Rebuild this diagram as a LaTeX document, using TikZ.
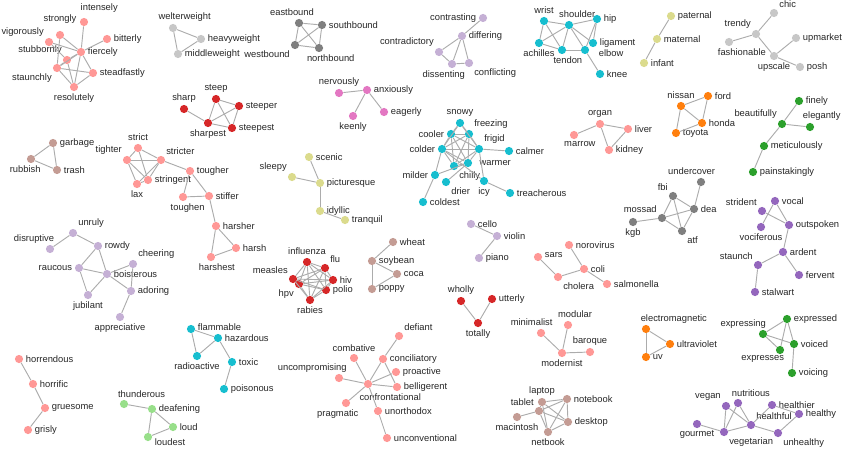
\documentclass[tikz,border=0pt]{standalone}
\usepackage{fontspec}
\setmainfont{Liberation Sans}
\usepackage{tikz}

\definecolor{pk}{HTML}{FF9896}
\definecolor{lg}{HTML}{C7C7C7}
\definecolor{dg}{HTML}{7F7F7F}
\definecolor{rd}{HTML}{D62728}
\definecolor{br}{HTML}{C49C94}
\definecolor{lv}{HTML}{C5B0D5}
\definecolor{mg}{HTML}{E377C2}
\definecolor{cy}{HTML}{17BECF}
\definecolor{ol}{HTML}{DBDB8D}
\definecolor{og}{HTML}{FF7F0E}
\definecolor{gn}{HTML}{2CA02C}
\definecolor{pu}{HTML}{9467BD}
\definecolor{lgn}{HTML}{98DF8A}

\begin{document}
\begin{tikzpicture}[x=0.03cm, y=-0.03cm,
    v/.style={circle, fill=#1, inner sep=0pt, minimum size=7pt},
    link/.style={draw=gray!65, line width=0.8pt},
    every label/.style={font=\fontsize{8}{9}\selectfont, text=black!85, inner sep=1pt},
    label distance=1pt]

    \useasboundingbox (0,0) rectangle (850,452);

    % fiercely
    \node[v=pk, label={[xshift=13pt, yshift=2pt]above:intensely}] (intensely) at (84,22) {};
    \node[v=pk, label={[yshift=4pt]above:strongly}] (strongly) at (60,35) {};
    \node[v=pk, label=above left:vigorously] (vigorously) at (49,42) {};
    \node[v=pk, label=right:bitterly] (bitterly) at (107,39) {};
    \node[v=pk, label=right:fiercely] (fiercely) at (81,52) {};
    \node[v=pk, label=above left:stubbornly] (stubbornly) at (67,60) {};
    \node[v=pk, label=below left:staunchly] (staunchly) at (57,68) {};
    \node[v=pk, label=right:steadfastly] (steadfastly) at (93,73) {};
    \node[v=pk, label=below:resolutely] (resolutely) at (74,87) {};
    \draw[link] (intensely) -- (fiercely);
    \draw[link] (bitterly) -- (fiercely);
    \draw[link] (strongly) -- (fiercely);
    \draw[link] (strongly) -- (staunchly);
    \draw[link] (vigorously) -- (fiercely);
    \draw[link] (vigorously) -- (stubbornly);
    \draw[link] (stubbornly) -- (fiercely);
    \draw[link] (stubbornly) -- (staunchly);
    \draw[link] (stubbornly) -- (resolutely);
    \draw[link] (staunchly) -- (fiercely);
    \draw[link] (staunchly) -- (steadfastly);
    \draw[link] (staunchly) -- (resolutely);
    \draw[link] (fiercely) -- (steadfastly);
    \draw[link] (fiercely) -- (resolutely);
    \draw[link] (steadfastly) -- (resolutely);

    % weight
    \node[v=lg, label={[xshift=10pt]above:welterweight}] (welterweight) at (173,28) {};
    \node[v=lg, label=right:heavyweight] (heavyweight) at (201,39) {};
    \node[v=lg, label=right:middleweight] (middleweight) at (178,54) {};
    \draw[link] (welterweight) -- (heavyweight);
    \draw[link] (welterweight) -- (middleweight);
    \draw[link] (heavyweight) -- (middleweight);

    % bound
    \node[v=dg, label={[xshift=-6pt]above:eastbound}] (eastbound) at (299,23) {};
    \node[v=dg, label=right:southbound] (southbound) at (322,25) {};
    \node[v=dg, label=below left:westbound] (westbound) at (295,45) {};
    \node[v=dg, label={[xshift=10pt]below:northbound}] (northbound) at (319,48) {};
    \draw[link] (eastbound) -- (southbound);
    \draw[link] (eastbound) -- (westbound);
    \draw[link] (eastbound) -- (northbound);
    \draw[link] (southbound) -- (westbound);
    \draw[link] (southbound) -- (northbound);
    \draw[link] (westbound) -- (northbound);

    % steep
    \node[v=rd, label=above:steep] (steep) at (216,99) {};
    \node[v=rd, label=above:sharp] (sharp) at (184,109) {};
    \node[v=rd, label=right:steeper] (steeper) at (239,106) {};
    \node[v=rd, label=below:sharpest] (sharpest) at (208,123) {};
    \node[v=rd, label=right:steepest] (steepest) at (232,128) {};
    \draw[link] (sharp) -- (sharpest);
    \draw[link] (steep) -- (sharpest);
    \draw[link] (steep) -- (steepest);
    \draw[link] (steep) -- (steeper);
    \draw[link] (steeper) -- (sharpest);
    \draw[link] (steeper) -- (steepest);
    \draw[link] (sharpest) -- (steepest);

    % garbage
    \node[v=br, label=right:garbage] (garbage) at (53,143) {};
    \node[v=br, label={[xshift=-5pt]below:rubbish}] (rubbish) at (31,159) {};
    \node[v=br, label=right:trash] (trash) at (57,170) {};
    \draw[link] (garbage) -- (rubbish);
    \draw[link] (rubbish) -- (trash);
    \draw[link] (garbage) -- (trash);

    % strict
    \node[v=pk, label=above:strict] (strict) at (138,148) {};
    \node[v=pk, label=above left:tighter] (tighter) at (127,160) {};
    \node[v=pk, label=above right:stricter] (stricter) at (161,160) {};
    \node[v=pk, label=below:lax] (lax) at (137,184) {};
    \node[v=pk, label=right:stringent] (stringent) at (148,180) {};
    \node[v=pk, label=right:tougher] (tougher) at (190,171) {};
    \node[v=pk, label={[xshift=4pt]below:toughen}] (toughen) at (183,197) {};
    \node[v=pk, label=right:stiffer] (stiffer) at (209,196) {};
    \node[v=pk, label=right:harsher] (harsher) at (216,226) {};
    \node[v=pk, label=right:harsh] (harsh) at (236,248) {};
    \node[v=pk, label={[xshift=5pt]below:harshest}] (harshest) at (211,257) {};
    \draw[link] (strict) -- (tighter);
    \draw[link] (strict) -- (stricter);
    \draw[link] (strict) -- (stringent);
    \draw[link] (tighter) -- (stricter);
    \draw[link] (tighter) -- (lax);
    \draw[link] (tighter) -- (stringent);
    \draw[link] (stricter) -- (lax);
    \draw[link] (stricter) -- (stringent);
    \draw[link] (lax) -- (stringent);
    \draw[link] (stricter) -- (tougher);
    \draw[link] (tougher) -- (stiffer);
    \draw[link] (tougher) -- (toughen);
    \draw[link] (toughen) -- (stiffer);
    \draw[link] (stiffer) -- (harsher);
    \draw[link] (harsher) -- (harsh);
    \draw[link] (harsher) -- (harshest);
    \draw[link] (harsh) -- (harshest);

    % contrasting
    \node[v=lv, label=left:contrasting] (contrasting) at (483,18) {};
    \node[v=lv, label=right:differing] (differing) at (462,36) {};
    \node[v=lv, label=above left:contradictory] (contradictory) at (439,52) {};
    \node[v=lv, label={[xshift=-7pt]below:dissenting}] (dissenting) at (452,64) {};
    \node[v=lv, label=below right:conflicting] (conflicting) at (469,63) {};
    \draw[link] (contrasting) -- (differing);
    \draw[link] (differing) -- (contradictory);
    \draw[link] (differing) -- (dissenting);
    \draw[link] (differing) -- (conflicting);
    \draw[link] (contradictory) -- (dissenting);
    \draw[link] (dissenting) -- (conflicting);

    % anxiously
    \node[v=mg, label=above:nervously] (nervously) at (339,93) {};
    \node[v=mg, label=right:anxiously] (anxiously) at (367,90) {};
    \node[v=mg, label=below:keenly] (keenly) at (353,116) {};
    \node[v=mg, label=right:eagerly] (eagerly) at (384,112) {};
    \draw[link] (nervously) -- (anxiously);
    \draw[link] (anxiously) -- (keenly);
    \draw[link] (anxiously) -- (eagerly);

    % picturesque
    \node[v=ol, label=right:scenic] (scenic) at (309,157) {};
    \node[v=ol, label=above left:sleepy] (sleepy) at (292,177) {};
    \node[v=ol, label=right:picturesque] (picturesque) at (320,183) {};
    \node[v=ol, label=right:idyllic] (idyllic) at (320,211) {};
    \node[v=ol, label=right:tranquil] (tranquil) at (345,220) {};
    \draw[link] (scenic) -- (picturesque);
    \draw[link] (sleepy) -- (picturesque);
    \draw[link] (picturesque) -- (idyllic);
    \draw[link] (idyllic) -- (tranquil);

    % cold
    \node[v=cy, label=above:snowy] (snowy) at (460,123) {};
    \node[v=cy, label=left:cooler] (cooler) at (451,134) {};
    \node[v=cy, label=above right:freezing] (freezing) at (469,134) {};
    \node[v=cy, label=left:colder] (colder) at (442,149) {};
    \node[v=cy, label=above right:frigid] (frigid) at (479,149) {};
    \node[v=cy, label=right:calmer] (calmer) at (509,151) {};
    \node[v=cy, label=below right:chilly] (chilly) at (454,166) {};
    \node[v=cy, label={[xshift=4pt]right:warmer}] (warmer) at (468,163) {};
    \node[v=cy, label=left:milder] (milder) at (435,175) {};
    \node[v=cy, label=below right:drier] (drier) at (446,182) {};
    \node[v=cy, label=below:icy] (icy) at (484,181) {};
    \node[v=cy, label=right:treacherous] (treacherous) at (510,193) {};
    \node[v=cy, label=right:coldest] (coldest) at (423,202) {};
    \draw[link] (snowy) -- (cooler);
    \draw[link] (snowy) -- (freezing);
    \draw[link] (snowy) -- (colder);
    \draw[link] (snowy) -- (frigid);
    \draw[link] (cooler) -- (freezing);
    \draw[link] (cooler) -- (colder);
    \draw[link] (cooler) -- (frigid);
    \draw[link] (cooler) -- (warmer);
    \draw[link] (cooler) -- (chilly);
    \draw[link] (freezing) -- (colder);
    \draw[link] (freezing) -- (frigid);
    \draw[link] (freezing) -- (chilly);
    \draw[link] (freezing) -- (warmer);
    \draw[link] (colder) -- (frigid);
    \draw[link] (colder) -- (chilly);
    \draw[link] (colder) -- (warmer);
    \draw[link] (colder) -- (milder);
    \draw[link] (colder) -- (icy);
    \draw[link] (frigid) -- (chilly);
    \draw[link] (frigid) -- (warmer);
    \draw[link] (frigid) -- (calmer);
    \draw[link] (frigid) -- (icy);
    \draw[link] (chilly) -- (warmer);
    \draw[link] (warmer) -- (drier);
    \draw[link] (warmer) -- (milder);
    \draw[link] (milder) -- (coldest);
    \draw[link] (icy) -- (treacherous);

    % shoulder
    \node[v=cy, label=above:wrist] (wrist) at (544,21) {};
    \node[v=cy, label={[xshift=7pt]above:shoulder}] (shoulder) at (569,25) {};
    \node[v=cy, label=right:hip] (hip) at (597,19) {};
    \node[v=cy, label=below:achilles] (achilles) at (539,43) {};
    \node[v=cy, label=right:ligament] (ligament) at (593,43) {};
    \node[v=cy, label={[xshift=5pt]below:tendon}] (tendon) at (562,50) {};
    \node[v=cy, label={[xshift=6pt, yshift=-3pt]right:elbow}] (elbow) at (585,50) {};
    \node[v=cy, label=right:knee] (knee) at (600,74) {};
    \draw[link] (wrist) -- (shoulder);
    \draw[link] (wrist) -- (achilles);
    \draw[link] (wrist) -- (tendon);
    \draw[link] (shoulder) -- (hip);
    \draw[link] (shoulder) -- (achilles);
    \draw[link] (shoulder) -- (tendon);
    \draw[link] (shoulder) -- (elbow);
    \draw[link] (shoulder) -- (ligament);
    \draw[link] (hip) -- (ligament);
    \draw[link] (hip) -- (elbow);
    \draw[link] (achilles) -- (tendon);
    \draw[link] (tendon) -- (elbow);
    \draw[link] (elbow) -- (knee);

    % paternal
    \node[v=ol, label=right:paternal] (paternal) at (671,16) {};
    \node[v=ol, label=right:maternal] (maternal) at (657,39) {};
    \node[v=ol, label=right:infant] (infant) at (644,63) {};
    \draw[link] (paternal) -- (maternal);
    \draw[link] (maternal) -- (infant);

    % chic
    \node[v=lg, label=above right:chic] (chic) at (774,13) {};
    \node[v=lg, label=above left:trendy] (trendy) at (756,34) {};
    \node[v=lg, label=right:upmarket] (upmarket) at (796,38) {};
    \node[v=lg, label={[xshift=11pt]below:fashionable}] (fashionable) at (729,42) {};
    \node[v=lg, label=below:upscale] (upscale) at (774,56) {};
    \node[v=lg, label=right:posh] (posh) at (800,67) {};
    \draw[link] (chic) -- (trendy);
    \draw[link] (trendy) -- (fashionable);
    \draw[link] (trendy) -- (upscale);
    \draw[link] (upscale) -- (upmarket);
    \draw[link] (upscale) -- (posh);

    % ford
    \node[v=og, label=above:nissan] (nissan) at (681,106) {};
    \node[v=og, label=right:ford] (ford) at (708,96) {};
    \node[v=og, label=right:honda] (honda) at (702,123) {};
    \node[v=og, label=right:toyota] (toyota) at (676,133) {};
    \draw[link] (nissan) -- (ford);
    \draw[link] (nissan) -- (honda);
    \draw[link] (nissan) -- (toyota);
    \draw[link] (ford) -- (honda);
    \draw[link] (honda) -- (toyota);

    % organ
    \node[v=pk, label=above:organ] (organ) at (600,124) {};
    \node[v=pk, label=right:liver] (liver) at (628,129) {};
    \node[v=pk, label={[xshift=5pt]below:marrow}] (marrow) at (574,135) {};
    \node[v=pk, label=right:kidney] (kidney) at (609,150) {};
    \draw[link] (organ) -- (marrow);
    \draw[link] (organ) -- (liver);
    \draw[link] (organ) -- (kidney);
    \draw[link] (liver) -- (kidney);

    % beautifully
    \node[v=gn, label=right:finely] (finely) at (799,101) {};
    \node[v=gn, label=above left:beautifully] (beautifully) at (782,124) {};
    \node[v=gn, label={[xshift=10pt]above:elegantly}] (elegantly) at (810,127) {};
    \node[v=gn, label=right:meticulously] (meticulously) at (764,146) {};
    \node[v=gn, label=right:painstakingly] (painstakingly) at (753,172) {};
    \draw[link] (finely) -- (beautifully);
    \draw[link] (beautifully) -- (elegantly);
    \draw[link] (beautifully) -- (meticulously);
    \draw[link] (meticulously) -- (painstakingly);

    % fbi
    \node[v=dg, label={[xshift=-8pt]above:undercover}] (undercover) at (701,182) {};
    \node[v=dg, label=above left:fbi] (fbi) at (673,196) {};
    \node[v=dg, label=above left:mossad] (mossad) at (662,218) {};
    \node[v=dg, label=right:dea] (dea) at (694,209) {};
    \node[v=dg, label=below:kgb] (kgb) at (633,222) {};
    \node[v=dg, label=below right:atf] (atf) at (682,231) {};
    \draw[link] (undercover) -- (dea);
    \draw[link] (fbi) -- (mossad);
    \draw[link] (fbi) -- (dea);
    \draw[link] (fbi) -- (atf);
    \draw[link] (mossad) -- (kgb);
    \draw[link] (mossad) -- (dea);
    \draw[link] (mossad) -- (atf);
    \draw[link] (dea) -- (atf);

    % vocal
    \node[v=pu, label=right:vocal] (vocal) at (775,201) {};
    \node[v=pu, label=above left:strident] (strident) at (762,211) {};
    \node[v=pu, label=right:outspoken] (outspoken) at (789,225) {};
    \node[v=pu, label=below:vociferous] (vociferous) at (761,227) {};
    \node[v=pu, label=right:ardent] (ardent) at (783,252) {};
    \node[v=pu, label=above left:staunch] (staunch) at (758,265) {};
    \node[v=pu, label=right:fervent] (fervent) at (799,275) {};
    \node[v=pu, label=right:stalwart] (stalwart) at (755,292) {};
    \draw[link] (vocal) -- (outspoken);
    \draw[link] (vocal) -- (vociferous);
    \draw[link] (strident) -- (outspoken);
    \draw[link] (outspoken) -- (ardent);
    \draw[link] (ardent) -- (staunch);
    \draw[link] (ardent) -- (fervent);
    \draw[link] (staunch) -- (stalwart);

    % boisterous
    \node[v=lv, label=above right:unruly] (unruly) at (73,233) {};
    \node[v=lv, label={[xshift=8pt]above left:disruptive}] (disruptive) at (50,249) {};
    \node[v=lv, label=right:rowdy] (rowdy) at (98,246) {};
    \node[v=lv, label=above right:cheering] (cheering) at (133,264) {};
    \node[v=lv, label=left:raucous] (raucous) at (79,268) {};
    \node[v=lv, label=right:boisterous] (boisterous) at (107,274) {};
    \node[v=lv, label=right:adoring] (adoring) at (131,291) {};
    \node[v=lv, label=below:jubilant] (jubilant) at (88,295) {};
    \node[v=lv, label=below:appreciative] (appreciative) at (120,317) {};
    \draw[link] (unruly) -- (disruptive);
    \draw[link] (unruly) -- (rowdy);
    \draw[link] (rowdy) -- (raucous);
    \draw[link] (rowdy) -- (boisterous);
    \draw[link] (raucous) -- (boisterous);
    \draw[link] (raucous) -- (jubilant);
    \draw[link] (jubilant) -- (boisterous);
    \draw[link] (boisterous) -- (cheering);
    \draw[link] (boisterous) -- (adoring);
    \draw[link] (cheering) -- (adoring);
    \draw[link] (adoring) -- (appreciative);

    % flammable
    \node[v=cy, label={[yshift=2pt]right:flammable}] (flammable) at (191,329) {};
    \node[v=cy, label=right:hazardous] (hazardous) at (218,338) {};
    \node[v=cy, label=below:radioactive] (radioactive) at (197,356) {};
    \node[v=cy, label=right:toxic] (toxic) at (232,362) {};
    \node[v=cy, label=right:poisonous] (poisonous) at (224,389) {};
    \draw[link] (flammable) -- (hazardous);
    \draw[link] (flammable) -- (radioactive);
    \draw[link] (radioactive) -- (hazardous);
    \draw[link] (hazardous) -- (toxic);
    \draw[link] (toxic) -- (poisonous);

    % horrendous
    \node[v=pk, label=right:horrendous] (horrendous) at (19,359) {};
    \node[v=pk, label=right:horrific] (horrific) at (33,384) {};
    \node[v=pk, label=right:gruesome] (gruesome) at (45,408) {};
    \node[v=pk, label=right:grisly] (grisly) at (28,430) {};
    \draw[link] (horrendous) -- (horrific);
    \draw[link] (horrific) -- (gruesome);
    \draw[link] (gruesome) -- (grisly);

    % loud
    \node[v=lgn, label={[xshift=15pt]above:thunderous}] (thunderous) at (124,404) {};
    \node[v=lgn, label=right:deafening] (deafening) at (152,409) {};
    \node[v=lgn, label=right:loud] (loud) at (173,427) {};
    \node[v=lgn, label={[yshift=-4pt]right:loudest}] (loudest) at (148,437) {};
    \draw[link] (thunderous) -- (deafening);
    \draw[link] (deafening) -- (loud);
    \draw[link] (deafening) -- (loudest);
    \draw[link] (loud) -- (loudest);

    % influenza
    \node[v=rd, label=above:influenza] (influenza) at (307,262) {};
    \node[v=rd, label=above right:flu] (flu) at (325,268) {};
    \node[v=rd, label=above left:measles] (measles) at (293,279) {};
    \node[v=rd, label=right:hiv] (hiv) at (333,280) {};
    \node[v=rd, label=below left:hpv] (hpv) at (299,284) {};
    \node[v=rd, label=right:polio] (polio) at (326,290) {};
    \node[v=rd, label=below:rabies] (rabies) at (310,300) {};
    \draw[link] (influenza) -- (flu);
    \draw[link] (influenza) -- (measles);
    \draw[link] (influenza) -- (hiv);
    \draw[link] (influenza) -- (hpv);
    \draw[link] (influenza) -- (polio);
    \draw[link] (influenza) -- (rabies);
    \draw[link] (flu) -- (measles);
    \draw[link] (flu) -- (hiv);
    \draw[link] (flu) -- (hpv);
    \draw[link] (flu) -- (polio);
    \draw[link] (flu) -- (rabies);
    \draw[link] (measles) -- (hiv);
    \draw[link] (measles) -- (hpv);
    \draw[link] (measles) -- (polio);
    \draw[link] (measles) -- (rabies);
    \draw[link] (hiv) -- (hpv);
    \draw[link] (hiv) -- (polio);
    \draw[link] (hiv) -- (rabies);
    \draw[link] (hpv) -- (polio);
    \draw[link] (hpv) -- (rabies);
    \draw[link] (polio) -- (rabies);

    % wheat
    \node[v=br, label=right:wheat] (wheat) at (393,242) {};
    \node[v=br, label=right:soybean] (soybean) at (372,261) {};
    \node[v=br, label=right:coca] (coca) at (397,274) {};
    \node[v=br, label=right:poppy] (poppy) at (372,289) {};
    \draw[link] (wheat) -- (soybean);
    \draw[link] (soybean) -- (coca);
    \draw[link] (soybean) -- (poppy);
    \draw[link] (coca) -- (poppy);

    % violin
    \node[v=lv, label=right:cello] (cello) at (471,224) {};
    \node[v=lv, label=right:violin] (violin) at (497,236) {};
    \node[v=lv, label=right:piano] (piano) at (479,258) {};
    \draw[link] (cello) -- (violin);
    \draw[link] (violin) -- (piano);

    % totally
    \node[v=rd, label=above:wholly] (wholly) at (461,301) {};
    \node[v=rd, label=right:utterly] (utterly) at (492,299) {};
    \node[v=rd, label=below:totally] (totally) at (478,323) {};
    \draw[link] (wholly) -- (totally);
    \draw[link] (utterly) -- (totally);

    % coli
    \node[v=pk, label={[yshift=2pt]right:sars}] (sars) at (538,257) {};
    \node[v=pk, label=right:norovirus] (norovirus) at (569,245) {};
    \node[v=pk, label=right:coli] (coli) at (584,269) {};
    \node[v=pk, label=below right:cholera] (cholera) at (558,277) {};
    \node[v=pk, label=right:salmonella] (salmonella) at (607,284) {};
    \draw[link] (sars) -- (cholera);
    \draw[link] (cholera) -- (coli);
    \draw[link] (coli) -- (norovirus);
    \draw[link] (coli) -- (salmonella);

    % modernist
    \node[v=pk, label={[xshift=-8pt]above:minimalist}] (minimalist) at (541,333) {};
    \node[v=pk, label={[xshift=6pt]above:modular}] (modular) at (568,325) {};
    \node[v=pk, label=above:baroque] (baroque) at (590,352) {};
    \node[v=pk, label=below:modernist] (modernist) at (562,353) {};
    \draw[link] (minimalist) -- (modernist);
    \draw[link] (modular) -- (modernist);
    \draw[link] (baroque) -- (modernist);

    % confrontational
    \node[v=pk, label=above right:defiant] (defiant) at (399,336) {};
    \node[v=pk, label=above:combative] (combative) at (354,358) {};
    \node[v=pk, label=right:conciliatory] (conciliatory) at (383,359) {};
    \node[v=pk, label=right:proactive] (proactive) at (396,372) {};
    \node[v=pk, label={[xshift=11pt]above left:uncompromising}] (uncompromising) at (339,378) {};
    \node[v=pk, label={[xshift=19pt, yshift=-2pt]below:confrontational}] (confrontational) at (368,384) {};
    \node[v=pk, label=right:belligerent] (belligerent) at (397,387) {};
    \node[v=pk, label={[xshift=-7pt]below:pragmatic}] (pragmatic) at (346,403) {};
    \node[v=pk, label=right:unorthodox] (unorthodox) at (378,411) {};
    \node[v=pk, label=right:unconventional] (unconventional) at (387,438) {};
    \draw[link] (defiant) -- (conciliatory);
    \draw[link] (conciliatory) -- (confrontational);
    \draw[link] (conciliatory) -- (belligerent);
    \draw[link] (combative) -- (confrontational);
    \draw[link] (uncompromising) -- (confrontational);
    \draw[link] (proactive) -- (confrontational);
    \draw[link] (belligerent) -- (confrontational);
    \draw[link] (pragmatic) -- (confrontational);
    \draw[link] (unorthodox) -- (confrontational);
    \draw[link] (unorthodox) -- (unconventional);

    % laptop
    \node[v=br, label=above:laptop] (laptop) at (542,402) {};
    \node[v=br, label=right:notebook] (notebook) at (567,399) {};
    \node[v=br, label=above left:tablet] (tablet) at (539,411) {};
    \node[v=br, label=below:macintosh] (macintosh) at (517,417) {};
    \node[v=br, label=right:desktop] (desktop) at (568,422) {};
    \node[v=br, label=below:netbook] (netbook) at (548,432) {};
    \draw[link] (macintosh) -- (tablet);
    \draw[link] (laptop) -- (notebook);
    \draw[link] (laptop) -- (tablet);
    \draw[link] (laptop) -- (desktop);
    \draw[link] (laptop) -- (netbook);
    \draw[link] (tablet) -- (notebook);
    \draw[link] (tablet) -- (desktop);
    \draw[link] (tablet) -- (netbook);
    \draw[link] (notebook) -- (desktop);
    \draw[link] (notebook) -- (netbook);
    \draw[link] (desktop) -- (netbook);

    % ultraviolet
    \node[v=og, label={[xshift=-9pt]above right:electromagnetic}] (electromagnetic) at (646,329) {};
    \node[v=og, label=right:ultraviolet] (ultraviolet) at (670,344) {};
    \node[v=og, label=right:uv] (uv) at (646,357) {};
    \draw[link] (electromagnetic) -- (ultraviolet);
    \draw[link] (electromagnetic) -- (uv);
    \draw[link] (ultraviolet) -- (uv);

    % expressed
    \node[v=gn, label=right:expressed] (expressed) at (787,319) {};
    \node[v=gn, label={[xshift=7pt]above left:expressing}] (expressing) at (763,334) {};
    \node[v=gn, label=right:voiced] (voiced) at (794,344) {};
    \node[v=gn, label={[xshift=8pt]below left:expresses}] (expresses) at (780,350) {};
    \node[v=gn, label=right:voicing] (voicing) at (792,373) {};
    \draw[link] (expressing) -- (expressed);
    \draw[link] (expressing) -- (voiced);
    \draw[link] (expressing) -- (expresses);
    \draw[link] (expressed) -- (voiced);
    \draw[link] (expressed) -- (expresses);
    \draw[link] (voiced) -- (voicing);

    % healthy
    \node[v=pu, label=above left:vegan] (vegan) at (726,406) {};
    \node[v=pu, label={[xshift=11pt]above:nutritious}] (nutritious) at (738,403) {};
    \node[v=pu, label=right:healthier] (healthier) at (772,405) {};
    \node[v=pu, label=above right:healthful] (healthful) at (751,425) {};
    \node[v=pu, label=right:healthy] (healthy) at (799,414) {};
    \node[v=pu, label=below:gourmet] (gourmet) at (697,424) {};
    \node[v=pu, label=below right:vegetarian] (vegetarian) at (724,432) {};
    \node[v=pu, label=below right:unhealthy] (unhealthy) at (778,433) {};
    \draw[link] (vegan) -- (vegetarian);
    \draw[link] (vegan) -- (healthful);
    \draw[link] (nutritious) -- (vegetarian);
    \draw[link] (nutritious) -- (healthful);
    \draw[link] (gourmet) -- (vegetarian);
    \draw[link] (vegetarian) -- (healthful);
    \draw[link] (healthful) -- (healthier);
    \draw[link] (healthful) -- (unhealthy);
    \draw[link] (healthier) -- (healthy);
    \draw[link] (healthy) -- (unhealthy);

\end{tikzpicture}
\end{document}
